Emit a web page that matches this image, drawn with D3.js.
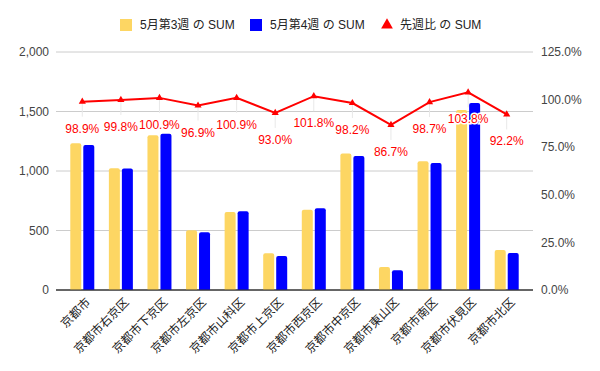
<!DOCTYPE html>
<html>
<head>
<meta charset="utf-8">
<script src="https://cdn.jsdelivr.net/npm/d3@7"></script>
<style>
  body { margin: 0; background: #fff; }
  text { font-family: "Liberation Sans", Arial, "Noto Sans CJK JP", sans-serif; }
</style>
</head>
<body>
<div id="chart"></div>
<script>
var categories = ['京都市', '京都市右京区', '京都市下京区', '京都市左京区', '京都市山科区', '京都市上京区',
  '京都市西京区', '京都市中京区', '京都市東山区', '京都市南区', '京都市伏見区', '京都市北区']
var week3 = [1233, 1023, 1300, 502, 655, 308, 675, 1147, 193, 1081, 1513, 336]
var week4 = [1219, 1021, 1312, 486, 661, 286, 687, 1126, 167, 1067, 1571, 310]
var ratio = [98.9, 99.8, 100.9, 96.9, 100.9, 93.0, 101.8, 98.2, 86.7, 98.7, 103.8, 92.2]
var leftTicks = [0, 500, 1000, 1500, 2000]
var rightTicks = [0, 25, 50, 75, 100, 125]
var seriesNames = ['5月第3週 の SUM', '5月第4週 の SUM', '先週比 の SUM']

var width = 600
var height = 371
var yellow = '#fdd663'
var blue = '#0000ff'
var red = '#ff0000'

var svg = d3.select('#chart')
  .append('svg')
  .attr('width', width)
  .attr('height', height)

var x = d3.scaleBand()
  .domain(categories)
  .range([63, 526])

var y = d3.scaleLinear()
  .domain([0, 2000])
  .range([290, 52])

var yRight = d3.scaleLinear()
  .domain([0, 125])
  .range([290, 52])

// gridlines
svg.selectAll('.grid')
  .data(leftTicks)
  .enter()
  .append('line')
  .attr('class', 'grid')
  .attr('x1', 56)
  .attr('x2', 533)
  .attr('y1', d => y(d))
  .attr('y2', d => y(d))
  .attr('stroke', d => d === 0 ? '#333' : '#ccc')
  .attr('stroke-width', 1)

svg.selectAll('.left-label')
  .data(leftTicks)
  .enter()
  .append('text')
  .attr('class', 'left-label')
  .attr('x', 49)
  .attr('y', d => y(d))
  .attr('dy', '0.35em')
  .attr('text-anchor', 'end')
  .attr('font-size', 12)
  .attr('fill', '#444')
  .text(d => d3.format(',')(d))

svg.selectAll('.right-label')
  .data(rightTicks)
  .enter()
  .append('text')
  .attr('class', 'right-label')
  .attr('x', 541)
  .attr('y', d => yRight(d))
  .attr('dy', '0.35em')
  .attr('font-size', 12)
  .attr('fill', '#444')
  .text(d => d.toFixed(1) + '%')

// bars with rounded tops
function barPath(x0, w, yTop, yBase) {
  var r = Math.min(2, (yBase - yTop) / 2)
  return 'M' + x0 + ',' + yBase +
    'V' + (yTop + r) +
    'Q' + x0 + ',' + yTop + ' ' + (x0 + r) + ',' + yTop +
    'H' + (x0 + w - r) +
    'Q' + (x0 + w) + ',' + yTop + ' ' + (x0 + w) + ',' + (yTop + r) +
    'V' + yBase + 'Z'
}

var barW = 11
categories.forEach(function(c, i) {
  var cx = x(c) + x.bandwidth() / 2
  svg.append('path')
    .attr('d', barPath(cx - 12, barW, y(week3[i]), y(0)))
    .attr('fill', yellow)
  svg.append('path')
    .attr('d', barPath(cx + 1, barW, y(week4[i]), y(0)))
    .attr('fill', blue)
})

// redraw baseline over bars
svg.append('line')
  .attr('x1', 56)
  .attr('x2', 533)
  .attr('y1', y(0))
  .attr('y2', y(0))
  .attr('stroke', '#333')

// x labels
svg.selectAll('.x-label')
  .data(categories)
  .enter()
  .append('text')
  .attr('class', 'x-label')
  .attr('transform', d => 'translate(' + (x(d) + x.bandwidth() / 2 + 6) + ',300) rotate(-45)')
  .attr('text-anchor', 'end')
  .attr('dy', '0.35em')
  .attr('font-size', 12)
  .attr('fill', '#222')
  .text(d => d)

// ratio line
var ratioData = categories.map((c, i) => ({ cat: c, v: ratio[i] }))

svg.selectAll('.leader')
  .data(ratioData)
  .enter()
  .append('line')
  .attr('class', 'leader')
  .attr('x1', d => x(d.cat) + x.bandwidth() / 2)
  .attr('x2', d => x(d.cat) + x.bandwidth() / 2)
  .attr('y1', d => yRight(d.v))
  .attr('y2', d => yRight(d.v) + 15)
  .attr('stroke', '#e8e8e8')

var line = d3.line()
  .x(d => x(d.cat) + x.bandwidth() / 2)
  .y(d => yRight(d.v))

svg.append('path')
  .datum(ratioData)
  .attr('d', line)
  .attr('fill', 'none')
  .attr('stroke', red)
  .attr('stroke-width', 2)

var tri = d3.symbol().type(d3.symbolTriangle).size(22)

svg.selectAll('.marker')
  .data(ratioData)
  .enter()
  .append('path')
  .attr('class', 'marker')
  .attr('d', tri)
  .attr('transform', d => 'translate(' + (x(d.cat) + x.bandwidth() / 2) + ',' + yRight(d.v) + ')')
  .attr('fill', red)

svg.selectAll('.ratio-label')
  .data(ratioData)
  .enter()
  .append('text')
  .attr('class', 'ratio-label')
  .attr('x', d => x(d.cat) + x.bandwidth() / 2)
  .attr('y', d => yRight(d.v) + 31)
  .attr('text-anchor', 'middle')
  .attr('font-size', 12)
  .attr('fill', red)
  .attr('stroke', '#fff')
  .attr('stroke-width', 3)
  .attr('paint-order', 'stroke')
  .text(d => d.v.toFixed(1) + '%')

// legend
var legend = svg.append('g')

legend.append('rect')
  .attr('x', 120).attr('y', 19).attr('width', 12).attr('height', 12)
  .attr('fill', yellow)
legend.append('text')
  .attr('x', 140).attr('y', 25).attr('dy', '0.35em')
  .attr('font-size', 12).attr('fill', '#222')
  .text(seriesNames[0])

legend.append('rect')
  .attr('x', 250).attr('y', 19).attr('width', 12).attr('height', 12)
  .attr('fill', blue)
legend.append('text')
  .attr('x', 270).attr('y', 25).attr('dy', '0.35em')
  .attr('font-size', 12).attr('fill', '#222')
  .text(seriesNames[1])

legend.append('path')
  .attr('d', d3.symbol().type(d3.symbolTriangle).size(60))
  .attr('transform', 'translate(387,25)')
  .attr('fill', red)
legend.append('text')
  .attr('x', 400).attr('y', 25).attr('dy', '0.35em')
  .attr('font-size', 12).attr('fill', '#222')
  .text(seriesNames[2])
</script>
</body>
</html>
